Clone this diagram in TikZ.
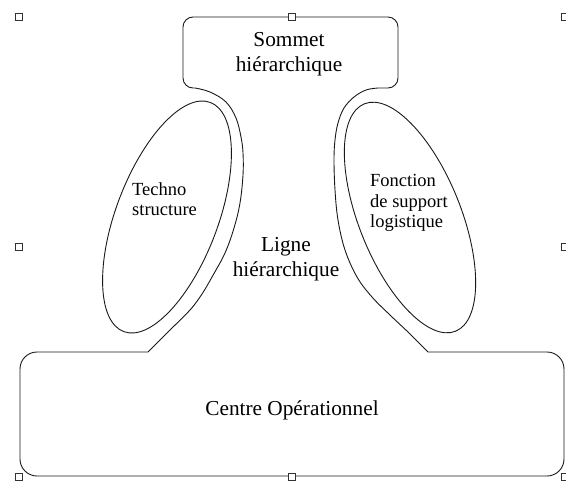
\documentclass[tikz,border=0pt]{standalone}
\usepackage{fontspec}
\setmainfont{Liberation Serif}
\usetikzlibrary{shapes.geometric}
\begin{document}
\begin{tikzpicture}[x=1pt,y=-1pt,
  outline/.style={draw=black!90, line width=0.9pt, line join=round},
  unit/.style={ellipse, draw=black!90, line width=0.9pt, inner sep=0pt,
    minimum width=245pt, minimum height=102pt},
  biglabel/.style={font=\fontsize{21.3}{24.5}\selectfont, align=center, inner sep=0pt},
  smalllabel/.style={font=\fontsize{18.5}{20.5}\selectfont, align=left,
    inner sep=0pt, anchor=west},
  handle/.style={draw=black!80, fill=white, line width=0.8pt,
    minimum size=7pt, inner sep=0pt}]
\useasboundingbox (0,0) rectangle (566,483);

% outline: top apex, the two flanks and the operating core as one path
\draw[outline]
  (183,27) .. controls (183,21.5) and (187.5,17) .. (193,17)
  -- (388,17) .. controls (393.5,17) and (398,21.5) .. (398,27)
  -- (398,78) .. controls (398,83.5) and (393.5,88) .. (388,88)
  -- (378,88)
  -- plot[smooth, tension=0.6] coordinates {(378,88) (366,90) (354,97)
       (344,108) (338,123) (335,140) (334,160) (335,190) (338,220)
       (345,250) (357,277) (372,297) (390,315) (409,333) (428,352)}
  -- (547,352) .. controls (556.4,352) and (564,359.6) .. (564,369)
  -- (564,459) .. controls (564,468.4) and (556.4,476) .. (547,476)
  -- (37,476) .. controls (27.6,476) and (20,468.4) .. (20,459)
  -- (20,369) .. controls (20,359.6) and (27.6,352) .. (37,352)
  -- (148,352)
  -- plot[smooth, tension=0.6] coordinates {(148,352) (169,331) (190,310)
       (202,294) (212,277) (225,253) (234,228) (240,203) (243,175)
       (243,153) (241,137) (236,118) (226,102) (210,92) (195,88)}
  -- (193,88) .. controls (187.5,88) and (183,83.5) .. (183,78)
  -- cycle;

% the two staff units
\node[unit, rotate=69.3] (technoEll) at (167,217) {};
\node[unit, rotate=111.8] (supportEll) at (410,217.5) {};

% labels
\node[biglabel] (sommet) at (289,54) {Sommet\\hiérarchique};
\node[biglabel] (ligne) at (286,259) {Ligne\\hiérarchique};
\node[biglabel] (centre) at (292,410) {Centre Opérationnel};
\node[smalllabel] (techno) at (132,199) {Techno\\structure};
\node[smalllabel] (support) at (370,203) {Fonction\\de support\\logistique};

% selection handles
\node[handle] (h1) at (19,17) {};
\node[handle] (h2) at (292,17) {};
\node[handle] (h3) at (565,17) {};
\node[handle] (h4) at (19,247) {};
\node[handle] (h5) at (565,247) {};
\node[handle] (h6) at (19,477) {};
\node[handle] (h7) at (292,477) {};
\node[handle] (h8) at (565,477) {};
\end{tikzpicture}
\end{document}
